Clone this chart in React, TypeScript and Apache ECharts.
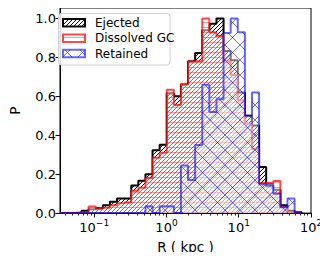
import React, { useEffect, useRef } from 'react';
import * as echarts from 'echarts';

// Histogram bins (log10 of R in kpc): first edge and constant width
const BIN_START_LOG = -1.471;
const BIN_WIDTH_LOG = 0.0983;

const ejected = [
  0, 0, 0.003, 0.012, 0.02, 0.025, 0.04, 0.058, 0.075, 0.075,
  0.142, 0.166, 0.2, 0.323, 0.351, 0.615, 0.6, 0.66, 0.78, 0.823,
  0.94, 0.973, 1.0, 0.833, 0.785, 0.62, 0.5, 0.45, 0.237, 0.15,
  0.12, 0.04, 0.012, 0.005,
];
const dissolved = [
  0, 0, 0, 0.005, 0.034, 0.022, 0.028, 0.04, 0.05, 0.055,
  0.115, 0.13, 0.18, 0.285, 0.31, 0.634, 0.555, 0.664, 0.78, 0.78,
  1.0, 0.93, 0.91, 0.78, 0.71, 0.58, 0.46, 0.33, 0.155, 0.155,
  0.165, 0.03, 0.005, 0,
];
const retained = [
  0, 0, 0, 0, 0, 0, 0, 0, 0, 0,
  0, 0, 0.035, 0, 0.035, 0.035, 0, 0.245, 0.17, 0.35,
  0.66, 0.52, 0.585, 0.925, 1.0, 0.93, 0.5, 0.62, 0.148, 0.14,
  0.1, 0.03, 0.075, 0,
];

const seriesNames = ['Ejected', 'Dissolved GC', 'Retained'];
const xMajorTicks = [-1, 0, 1, 2];
const xTickLabels = ['{b|10}{sup|−1}', '{b|10}{sup|0}', '{b|10}{sup|1}', '{b|10}{sup|2}'];
const yTicks = [0, 0.2, 0.4, 0.6, 0.8, 1.0];
const X_MIN = -1.474;
const X_MAX = 2;
const Y_MAX = 1.054;

function minorTickValues(): number[] {
  const out: number[] = [];
  for (let d = -2; d <= 1; d++) {
    for (let k = 2; k <= 9; k++) {
      const v = Math.log10(k) + d;
      if (v > X_MIN && v < X_MAX) out.push(v);
    }
  }
  return out;
}

function edge(i: number) {
  return BIN_START_LOG + i * BIN_WIDTH_LOG;
}

function stepData(vals: number[]) {
  const n = vals.length;
  const pts: number[][] = [[edge(0), 0]];
  vals.forEach((v, i) => pts.push([edge(i), v]));
  pts.push([edge(n), vals[n - 1]]);
  pts.push([edge(n), 0]);
  return pts;
}

type Hatch = 'diag' | 'horiz' | 'cross';
function makePattern(kind: Hatch, lineColor: string, bg: string | null) {
  const c = document.createElement('canvas');
  const w = kind === 'cross' ? 15 : 4;
  const h = kind === 'cross' ? 15 : kind === 'diag' ? 4 : 5;
  c.width = w;
  c.height = h;
  const ctx = c.getContext('2d')!;
  if (bg) {
    ctx.fillStyle = bg;
    ctx.fillRect(0, 0, w, h);
  }
  ctx.strokeStyle = lineColor;
  ctx.lineWidth = 1;
  ctx.beginPath();
  if (kind === 'horiz') {
    ctx.moveTo(0, 2.5);
    ctx.lineTo(w, 2.5);
  } else if (kind === 'diag') {
    for (let k = -1; k <= 1; k++) {
      ctx.moveTo(k * w, h);
      ctx.lineTo(k * w + w, 0);
    }
  } else {
    for (let k = -1; k <= 1; k++) {
      ctx.moveTo(k * w, h);
      ctx.lineTo(k * w + w, 0);
      ctx.moveTo(k * w, 0);
      ctx.lineTo(k * w + w, h);
    }
  }
  ctx.stroke();
  return { image: c, repeat: 'repeat', imageWidth: w, imageHeight: h } as any;
}

export default function App() {
  const ref = useRef<HTMLDivElement>(null);
  useEffect(() => {
    if (!ref.current) return;
    const chart = echarts.init(ref.current, null, { renderer: 'svg' });

    const patBlack = makePattern('diag', '#000000', null);
    const patRed = makePattern('horiz', 'rgba(255,0,0,0.4)', 'rgba(255,255,255,0.5)');
    const patBlue = makePattern('cross', 'rgba(0,0,255,0.55)', 'rgba(255,255,255,0.45)');
    const edgeColors = ['#000000', 'rgba(255,0,0,0.72)', 'rgba(0,0,255,0.6)'];
    const patterns = [patBlack, patRed, patBlue];
    const datasets = [ejected, dissolved, retained];

    const font = 'DejaVu Sans';
    const legendX = 58.5;
    const legendY = 13.5;
    const rowsY = [22.7, 38.3, 53.5];

    const legendGraphics: any[] = [
      {
        type: 'rect',
        shape: { x: legendX, y: legendY, width: 111.5, height: 51.5, r: 3 },
        style: { fill: 'rgba(255,255,255,0.85)', stroke: '#d0d0d0', lineWidth: 1 },
        z: 100,
      },
    ];
    seriesNames.forEach((name, i) => {
      legendGraphics.push({
        type: 'rect',
        shape: { x: 63, y: rowsY[i] - 3.7, width: 22, height: 7.4 },
        style: { fill: patterns[i], stroke: edgeColors[i], lineWidth: 2 },
        z: 101,
      });
      legendGraphics.push({
        type: 'text',
        x: 95,
        y: rowsY[i],
        style: {
          text: name,
          fontFamily: font,
          fontSize: 12,
          fill: '#000',
          verticalAlign: 'middle',
          align: 'left',
        },
        z: 101,
      });
    });

    chart.setOption({
      animation: false,
      backgroundColor: '#ffffff',
      grid: {
        left: 52.7,
        right: 17,
        top: 8,
        bottom: 44,
        show: true,
        borderColor: '#000',
        borderWidth: 1,
        backgroundColor: 'transparent',
      },
      xAxis: [
        {
          type: 'value',
          min: X_MIN,
          max: X_MAX,
          name: 'R ( kpc )',
          nameLocation: 'middle',
          nameGap: 23,
          nameTextStyle: { fontFamily: font, fontSize: 13.5, color: '#000', verticalAlign: 'middle', lineHeight: 16 },
          axisLine: { show: true, onZero: false, lineStyle: { color: '#000', width: 1 } },
          axisTick: { show: true, customValues: xMajorTicks, length: 4.4, lineStyle: { color: '#000', width: 1 } },
          axisLabel: {
            customValues: xMajorTicks,
            margin: 5,
            formatter: (v: number) => xTickLabels[xMajorTicks.indexOf(Math.round(v))] ?? '',
            rich: {
              b: { fontFamily: font, fontSize: 13, color: '#000', lineHeight: 16, verticalAlign: 'bottom' },
              sup: { fontFamily: font, fontSize: 9, color: '#000', lineHeight: 7, verticalAlign: 'top' },
            },
          },
          splitLine: { show: false },
        },
        {
          type: 'value',
          min: X_MIN,
          max: X_MAX,
          position: 'bottom',
          axisLine: { show: false, onZero: false },
          axisTick: { show: true, customValues: minorTickValues(), length: 2.5, lineStyle: { color: '#000', width: 0.8 } },
          axisLabel: { show: false },
          splitLine: { show: false },
        },
      ],
      yAxis: {
        type: 'value',
        min: 0,
        max: Y_MAX,
        name: 'P',
        nameLocation: 'middle',
        nameGap: 38,
        nameTextStyle: { fontFamily: font, fontSize: 13.5, color: '#000' },
        axisLine: { show: true, onZero: false, lineStyle: { color: '#000', width: 1 } },
        axisTick: { show: true, customValues: yTicks, length: 4.4, lineStyle: { color: '#000', width: 1 } },
        axisLabel: {
          customValues: yTicks,
          margin: 4,
          fontFamily: font,
          fontSize: 13,
          color: '#000',
          formatter: (v: number) => v.toFixed(1),
        },
        splitLine: { show: false },
      },
      series: datasets.map((vals, i) => ({
        type: 'line',
        name: seriesNames[i],
        data: stepData(vals),
        step: 'end',
        showSymbol: false,
        symbol: 'none',
        lineStyle: { color: edgeColors[i], width: 2 },
        areaStyle: { color: patterns[i], opacity: 1 },
        z: 2 + i,
        silent: true,
      })),
      graphic: legendGraphics,
    });

    return () => chart.dispose();
  }, []);

  return <div ref={ref} style={{ width: 328, height: 260, margin: -8 }} />;
}
